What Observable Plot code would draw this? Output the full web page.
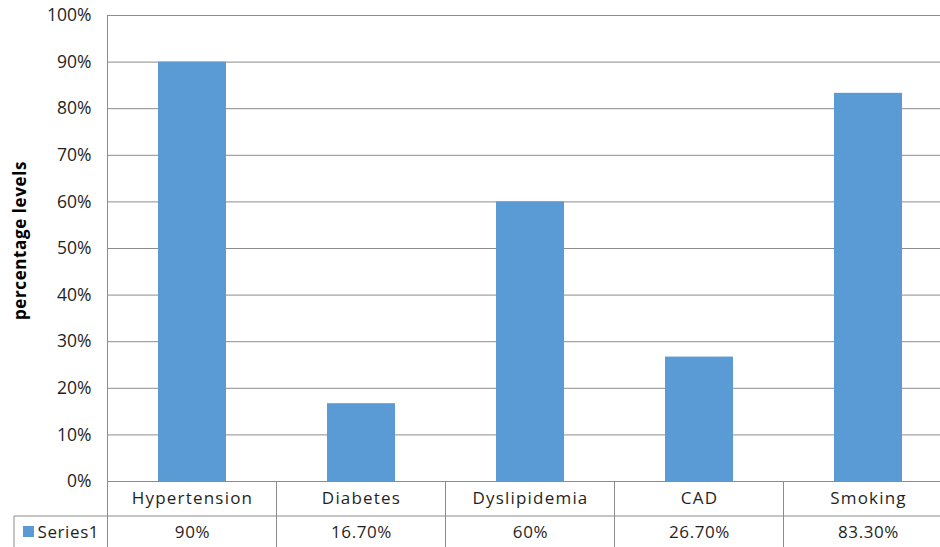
<!DOCTYPE html>
<html>
<head>
<meta charset="utf-8">
<script src="https://cdn.jsdelivr.net/npm/d3@7"></script>
<script src="https://cdn.jsdelivr.net/npm/@observablehq/plot@0.6"></script>
<style>
  html, body { margin: 0; padding: 0; background: #fff; overflow: hidden; }
  #chart { width: 940px; height: 547px; overflow: hidden; }
</style>
</head>
<body>
<div id="chart"></div>
<script>
const categories = ["Hypertension", "Diabetes", "Dyslipidemia", "CAD", "Smoking"];
const values = [0.90, 0.167, 0.60, 0.267, 0.833];
const valueLabels = ["90%", "16.70%", "60%", "26.70%", "83.30%"];
const yTicks = [0, 0.1, 0.2, 0.3, 0.4, 0.5, 0.6, 0.7, 0.8, 0.9, 1.0];
const seriesName = "Series1";
const yTitle = "percentage levels";

const data = categories.map((c, i) => ({category: c, value: values[i], label: valueLabels[i]}));

const FONT = "'Open Sans', Lato, sans-serif";
const TEXT = "#1f1f1f";
const GRID = "#8c8c8c";
const BLUE = "#5b9bd5";

const plot = Plot.plot({
  width: 940,
  height: 547,
  marginLeft: 107,
  marginRight: -12,
  marginTop: 15,
  marginBottom: 66,
  style: {fontFamily: FONT, fontSize: "17px", color: TEXT, background: "#fff"},
  x: {domain: categories, paddingInner: 0.6, paddingOuter: 0.3, label: null},
  y: {domain: [0, 1], label: null},
  marks: [
    Plot.ruleY(yTicks, {stroke: GRID, strokeWidth: 1}),
    Plot.barY(data, {x: "category", y: "value", fill: BLUE}),
    Plot.axisX({tickSize: 0, tickPadding: 10, fontSize: 17, label: null}),
    Plot.axisY({ticks: yTicks, tickSize: 0, tickPadding: 16, fontSize: 17.5, tickFormat: d3.format(".0%"), label: null}),
    Plot.text(data, {x: "category", y: 0, text: "label", dy: 51, fontSize: 17, fill: TEXT, lineAnchor: "middle"}),
    Plot.text([seriesName], {frameAnchor: "bottom-left", dx: -70, dy: 51, fontSize: 17, fill: TEXT, textAnchor: "start", lineAnchor: "middle"}),
    Plot.text([yTitle], {frameAnchor: "left", rotate: -90, dx: -87, dy: -8, fontSize: 17, fontWeight: "bold", fill: "#000", textAnchor: "middle", lineAnchor: "middle"})
  ]
});

document.getElementById("chart").appendChild(plot);
const svg = d3.select(plot);

// letter spacing tweaks (Calibri-like spacing of the original)
svg.selectAll('[aria-label="x-axis tick label"] text').style("letter-spacing", "1.2px");
svg.selectAll('[aria-label="text"] text').style("letter-spacing", "0.6px");

// Data table grid lines, positioned from Plot's scales
const sx = plot.scale("x");
const sy = plot.scale("y");
const step = sx.step, bw = sx.bandwidth;
const y0 = sy.apply(0), y1 = sy.apply(1);
const rowH = 35;
const bottom = 547;
const g = svg.append("g").attr("stroke", GRID).attr("stroke-width", 1).attr("fill", "none");
const colLeft = i => sx.apply(categories[0]) - (step - bw) / 2 + i * step;
// left axis line
g.append("line").attr("x1", colLeft(0)).attr("x2", colLeft(0)).attr("y1", y1).attr("y2", bottom);
// column separators in table
for (let i = 1; i <= categories.length; i++) {
  g.append("line").attr("x1", colLeft(i)).attr("x2", colLeft(i)).attr("y1", y0).attr("y2", bottom);
}
// row separator and series cell border
const tableLeft = 14;
g.append("line").attr("x1", tableLeft).attr("x2", 960).attr("y1", y0 + rowH).attr("y2", y0 + rowH);
g.append("line").attr("x1", tableLeft).attr("x2", tableLeft).attr("y1", y0 + rowH).attr("y2", bottom);
// legend key swatch
svg.append("rect").attr("x", 23).attr("y", y0 + rowH + 10).attr("width", 11).attr("height", 11).attr("fill", BLUE);
</script>
</body>
</html>
